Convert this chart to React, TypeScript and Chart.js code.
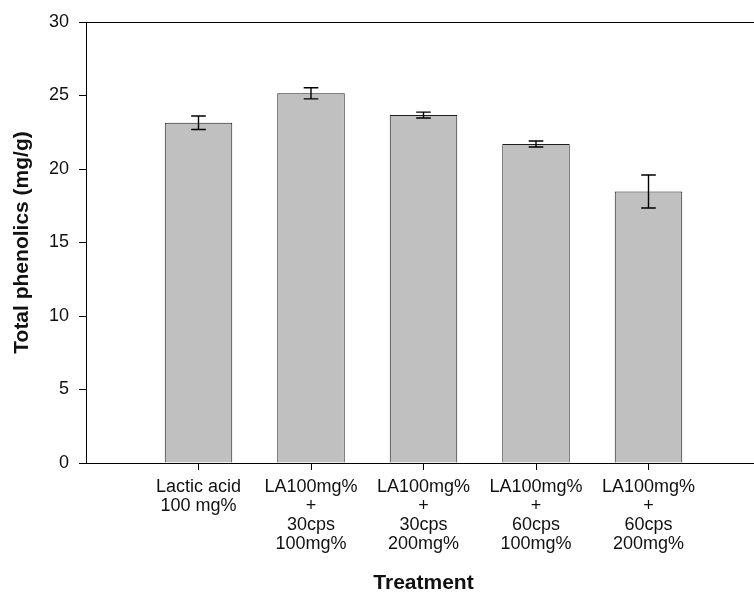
import React, { useEffect, useRef } from "react";
import { Chart, registerables } from "chart.js";

Chart.register(...registerables);

// ---- data ----
const categories: string[][] = [
  ["Lactic acid", "100 mg%"],
  ["LA100mg%", "+", "30cps", "100mg%"],
  ["LA100mg%", "+", "30cps", "200mg%"],
  ["LA100mg%", "+", "60cps", "100mg%"],
  ["LA100mg%", "+", "60cps", "200mg%"],
];
const positions = [1, 2, 3, 4, 5];
const means = [23.15, 25.15, 23.67, 21.7, 18.47];
const errors = [0.46, 0.38, 0.2, 0.2, 1.12];
const yTicks = [0, 5, 10, 15, 20, 25, 30];

const FONT = 'Arial, "Liberation Sans", sans-serif';

const errorBarPlugin = {
  id: "errorBars",
  afterDatasetsDraw(chart: any) {
    const { ctx, scales } = chart;
    const x = scales.x;
    const y = scales.y;
    ctx.save();
    ctx.strokeStyle = "#000";
    ctx.lineWidth = 1.4;
    means.forEach((m, i) => {
      const px = x.getPixelForValue(positions[i]);
      const top = y.getPixelForValue(m + errors[i]);
      const bot = y.getPixelForValue(m - errors[i]);
      const half = 7.3;
      ctx.beginPath();
      ctx.moveTo(px, top);
      ctx.lineTo(px, bot);
      ctx.moveTo(px - half, top);
      ctx.lineTo(px + half, top);
      ctx.moveTo(px - half, bot);
      ctx.lineTo(px + half, bot);
      ctx.stroke();
    });
    ctx.restore();
  },
};

export default function App() {
  const ref = useRef<HTMLCanvasElement | null>(null);

  useEffect(() => {
    if (!ref.current) return;
    const chart = new Chart(ref.current, {
      type: "bar",
      data: {
        datasets: [
          {
            data: positions.map((p, i) => ({ x: p, y: means[i] })),
            backgroundColor: "#c0c0c0",
            borderColor: "#1e1e1e",
            borderWidth: 1,
            barPercentage: 0.6,
            categoryPercentage: 1,
          },
        ],
      },
      options: {
        responsive: false,
        animation: false,
        layout: { padding: { top: 22, left: 0, right: 0, bottom: 0 } },
        plugins: {
          legend: { display: false },
          tooltip: { enabled: false },
        },
        scales: {
          x: {
            type: "linear",
            position: "bottom",
            min: 0,
            max: 6,
            offset: false,
            afterBuildTicks: (s: any) => {
              s.ticks = positions.map((v) => ({ value: v }));
            },
            afterFit: (s: any) => {
              s.height = 131;
            },
            grid: {
              offset: false,
              drawOnChartArea: false,
              drawTicks: true,
              tickLength: 7,
              color: "#000",
              lineWidth: 1,
            },
            border: { display: true, color: "#000", width: 1 },
            ticks: {
              autoSkip: false,
              maxRotation: 0,
              minRotation: 0,
              padding: 7,
              color: "#111",
              font: { family: FONT, size: 18, lineHeight: 1.07 },
              callback: (_v: any, i: number) => categories[i],
            },
            title: {
              display: true,
              text: "Treatment",
              color: "#111",
              font: { family: FONT, size: 21, weight: "bold", lineHeight: 1 },
              padding: { top: 0, bottom: 0 },
            },
          },
          x2: {
            type: "linear",
            position: "top",
            min: 0,
            max: 6,
            offset: false,
            afterFit: (s: any) => {
              s.height = 0;
            },
            grid: { display: false, drawTicks: false },
            ticks: { display: false },
            border: { display: true, color: "#000", width: 1 },
          },
          y: {
            type: "linear",
            min: 0,
            max: 30,
            afterBuildTicks: (s: any) => {
              s.ticks = yTicks.map((v) => ({ value: v }));
            },
            afterFit: (s: any) => {
              s.width = 86;
            },
            grid: {
              drawOnChartArea: false,
              drawTicks: true,
              tickLength: 7,
              color: "#000",
              lineWidth: 1,
            },
            border: { display: true, color: "#000", width: 1 },
            ticks: {
              padding: 10,
              color: "#111",
              font: { family: FONT, size: 18 },
            },
            title: {
              display: true,
              text: "Total phenolics (mg/g)",
              color: "#111",
              font: { family: FONT, size: 21, weight: "bold", lineHeight: 1.2 },
              padding: { top: 10, bottom: 0 },
            },
          },
        },
      } as any,
      plugins: [errorBarPlugin],
    });
    return () => chart.destroy();
  }, []);

  return (
    <div
      style={{
        position: "absolute",
        left: 0,
        top: 0,
        width: 754,
        height: 594,
        overflow: "hidden",
        background: "#fff",
      }}
    >
      <canvas ref={ref} width={761} height={594} style={{ display: "block" }} />
    </div>
  );
}
